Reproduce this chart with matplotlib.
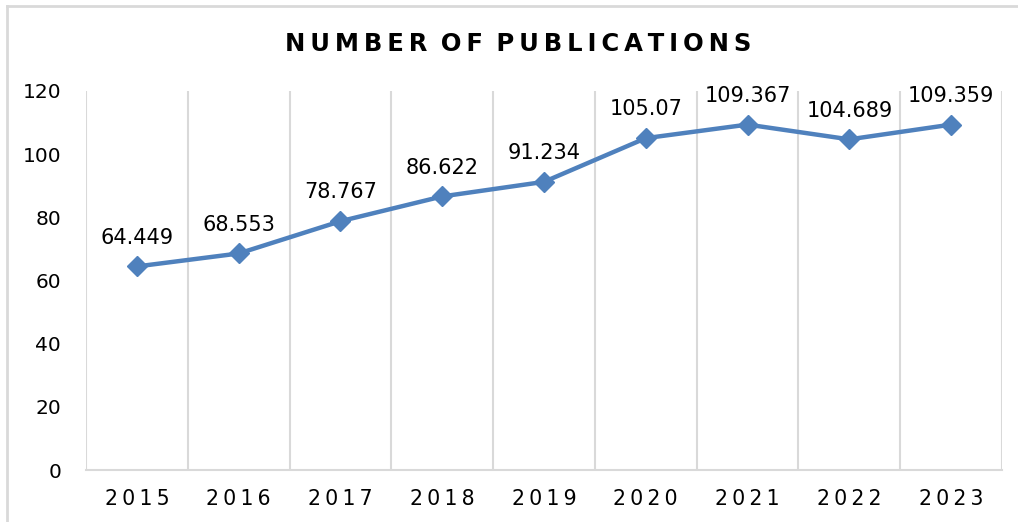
import matplotlib
matplotlib.use("Agg")
import matplotlib.pyplot as plt
from matplotlib.lines import Line2D

years = ["2015", "2016", "2017", "2018", "2019", "2020", "2021", "2022", "2023"]
values = [64.449, 68.553, 78.767, 86.622, 91.234, 105.07, 109.367, 104.689, 109.359]
labels = ["64.449", "68.553", "78.767", "86.622", "91.234", "105.07", "109.367", "104.689", "109.359"]
yticks = [0, 20, 40, 60, 80, 100, 120]

plt.rcParams['font.family'] = ['DejaVu Sans']

W, H = 1018, 522
fig = plt.figure(figsize=(W / 100, H / 100), dpi=100)
ax = fig.add_axes([86 / W, 1 - 470 / H, (1002 - 86) / W, (470 - 91) / H])

x = list(range(len(years)))
ax.plot(x, values, color="#4F81BD", linewidth=3.2, marker="D", markersize=10,
        markerfacecolor="#4F81BD", markeredgecolor="#4F81BD", zorder=3, clip_on=False)

for xi, v, lab in zip(x, values, labels):
    ax.annotate(lab, (xi, v), xytext=(0, 13.5), textcoords="offset points",
                ha="center", va="bottom", fontsize=15, color="#000000")

ax.set_xlim(-0.5, len(years) - 0.5)
ax.set_ylim(0, 120)
ax.set_yticks(yticks)
ax.set_yticklabels([str(t) for t in yticks], fontsize=14.5)
ax.set_xticks(x)
ax.set_xticklabels(["\u2009".join(y) for y in years], fontsize=14.8)
ax.tick_params(axis="both", length=0, colors="#000000")
ax.tick_params(axis="y", pad=18)
ax.tick_params(axis="x", pad=14)

for b in [i - 0.5 for i in range(len(years) + 1)]:
    ax.axvline(b, color="#D9D9D9", linewidth=1.5, zorder=1)

for s in ["top", "right", "left"]:
    ax.spines[s].set_visible(False)
ax.spines["bottom"].set_color("#D9D9D9")
ax.spines["bottom"].set_linewidth(1.5)

title = "\u2009".join("NUMBER OF PUBLICATIONS").replace("\u2009 \u2009", "\u2009 ")
fig.text(518 / W, 1 - 44 / H, title,
         ha="center", va="center", fontsize=17.5, fontweight="bold", color="#000000")

fig.add_artist(Line2D([7 / W, 1], [1 - 6 / H, 1 - 6 / H], color="#D9D9D9", linewidth=2, transform=fig.transFigure))
fig.add_artist(Line2D([7 / W, 7 / W], [0, 1 - 6 / H], color="#D9D9D9", linewidth=2, transform=fig.transFigure))

fig.savefig("out.png", dpi=100, facecolor="white")
